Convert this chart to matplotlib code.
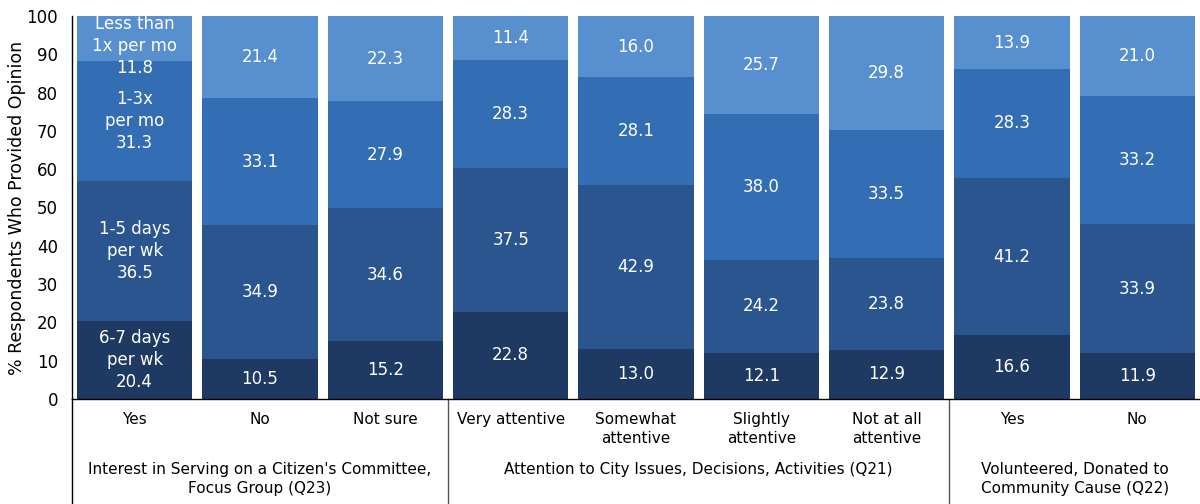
import numpy as np
import matplotlib.pyplot as plt

categories = ["Yes", "No", "Not sure", "Very attentive", "Somewhat\nattentive",
              "Slightly\nattentive", "Not at all\nattentive", "Yes", "No"]
groups = ["Interest in Serving on a Citizen's Committee,\nFocus Group (Q23)",
          "Attention to City Issues, Decisions, Activities (Q21)",
          "Volunteered, Donated to\nCommunity Cause (Q22)"]
group_sizes = [3, 4, 2]

series_names = ["6-7 days\nper wk", "1-5 days\nper wk", "1-3x\nper mo", "Less than\n1x per mo"]
days_6_7 = [20.4, 10.5, 15.2, 22.8, 13.0, 12.1, 12.9, 16.6, 11.9]
days_1_5 = [36.5, 34.9, 34.6, 37.5, 42.9, 24.2, 23.8, 41.2, 33.9]
per_mo_1_3 = [31.3, 33.1, 27.9, 28.3, 28.1, 38.0, 33.5, 28.3, 33.2]
less_1_mo = [11.8, 21.4, 22.3, 11.4, 16.0, 25.7, 29.8, 13.9, 21.0]

colors = ["#1e3a62", "#2a558f", "#336db3", "#578fcf"]

fig = plt.figure(figsize=(12, 5.04), dpi=100)
ax = fig.add_axes([72 / 1200, 1 - 399 / 504, 1 - 72 / 1200, 383 / 504])

x = np.arange(len(categories))
bottom = np.zeros(len(categories))
for i, vals in enumerate([days_6_7, days_1_5, per_mo_1_3, less_1_mo]):
    vals = np.array(vals)
    ax.bar(x, vals, 0.92, bottom=bottom, color=colors[i], linewidth=0)
    for j, v in enumerate(vals):
        txt = "%.1f" % v
        ypos = bottom[j] + v / 2
        if j == 0:
            txt = series_names[i] + "\n" + txt
            # keep the long top label inside the chart
            ypos = min(ypos, 92.2)
        ax.text(x[j], ypos, txt, ha="center", va="center",
                color="white", fontsize=12, linespacing=1.3)
    bottom += vals

ax.set_xlim(-0.5, len(categories) - 0.5)
ax.set_ylim(0, 100)
ax.set_yticks(np.arange(0, 101, 10))
ax.tick_params(axis="y", length=0, labelsize=12, pad=10)
ax.set_xticks([])
for s in ["top", "right"]:
    ax.spines[s].set_visible(False)
ax.spines["left"].set_linewidth(1)
ax.spines["bottom"].set_linewidth(1)
ax.set_ylabel("% Respondents Who Provided Opinion", fontsize=12.5, labelpad=0)

# category table below the axis
trans = ax.get_xaxis_transform()
bottom_y = -105 / 383
ax.plot([-0.5, -0.5], [0, bottom_y], color="black", lw=1, transform=trans, clip_on=False)
start = 0
for g, n in zip(groups, group_sizes):
    end = start + n
    if end < len(categories):
        ax.plot([end - 0.5, end - 0.5], [0, bottom_y], color="#555555", lw=1,
                transform=trans, clip_on=False)
    ax.text((start + end - 1) / 2, -63 / 383, g, ha="center", va="top",
            fontsize=11, transform=trans, linespacing=1.3)
    start = end
for j, c in enumerate(categories):
    ax.text(x[j], -13 / 383, c, ha="center", va="top", fontsize=11,
            transform=trans, linespacing=1.3)

fig.savefig("out.png", dpi=100)
